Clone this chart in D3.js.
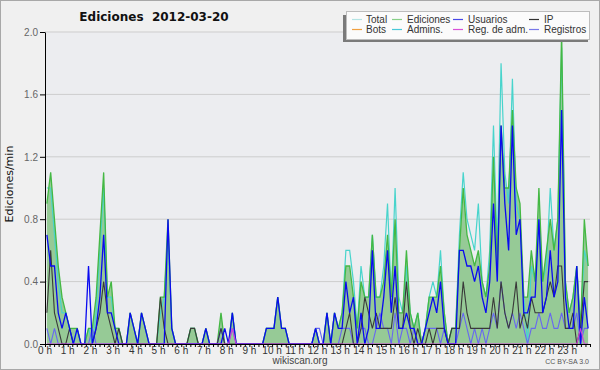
<!DOCTYPE html>
<html>
<head>
<meta charset="utf-8">
<script src="https://cdn.jsdelivr.net/npm/d3@7"></script>
<style>
body { margin: 0; background: #f0f0f0; }
</style>
</head>
<body>
<div id="grafico"></div>
<script>

// Datos: ediciones por minuto, en intervalos de 10 minutos (6 por hora)
var ediciones = [
  0.9, 1.1, 0.8, 0.5, 0.3, 0.2,
  0.1, 0.1, 0.1, 0.0, 0.0, 0.1,
  0.1, 0.3, 0.7, 1.1, 0.3, 0.4,
  0.1, 0.1, 0.0, 0.0, 0.2, 0.1,
  0.0, 0.2, 0.1, 0.0, 0.0, 0.0,
  0.3, 0.3, 0.8, 0.1, 0.0, 0.0,
  0.0, 0.0, 0.1, 0.1, 0.0, 0.0,
  0.1, 0.0, 0.0, 0.0, 0.2, 0.0,
  0.0, 0.2, 0.0, 0.0, 0.0, 0.0,
  0.0, 0.0, 0.0, 0.0, 0.1, 0.1,
  0.1, 0.3, 0.1, 0.1, 0.0, 0.0,
  0.0, 0.0, 0.0, 0.0, 0.0, 0.1,
  0.0, 0.0, 0.2, 0.0, 0.2, 0.1,
  0.2, 0.5, 0.5, 0.3, 0.1, 0.4,
  0.3, 0.3, 0.7, 0.3, 0.3, 0.4,
  0.7, 0.3, 0.8, 0.2, 0.2, 0.6,
  0.2, 0.1, 0.2, 0.0, 0.1, 0.3,
  0.3, 0.3, 0.5, 0.2, 0.0, 0.1,
  0.1, 0.6, 1.0, 0.7, 0.6, 0.5,
  0.6, 0.4, 0.3, 0.5, 1.2, 0.5,
  1.4, 1.0, 1.0, 1.5, 1.0, 0.9,
  0.3, 0.3, 0.6, 0.4, 1.0, 0.4,
  0.6, 0.8, 0.6, 0.8, 2.0, 0.4,
  0.2, 0.3, 0.5, 0.1, 0.8, 0.5
];
var total = [
  1.0, 1.0, 0.7, 0.4, 0.2, 0.2,
  0.1, 0.0, 0.1, 0.0, 0.0, 0.1,
  0.0, 0.2, 0.6, 1.0, 0.3, 0.3,
  0.1, 0.1, 0.0, 0.0, 0.2, 0.1,
  0.0, 0.2, 0.1, 0.0, 0.0, 0.0,
  0.2, 0.3, 0.7, 0.1, 0.0, 0.0,
  0.0, 0.0, 0.1, 0.1, 0.0, 0.0,
  0.1, 0.0, 0.0, 0.0, 0.1, 0.0,
  0.0, 0.2, 0.0, 0.0, 0.0, 0.0,
  0.0, 0.0, 0.0, 0.0, 0.1, 0.1,
  0.1, 0.3, 0.1, 0.1, 0.0, 0.0,
  0.0, 0.0, 0.0, 0.0, 0.0, 0.1,
  0.0, 0.0, 0.2, 0.0, 0.2, 0.1,
  0.2, 0.6, 0.6, 0.4, 0.1, 0.5,
  0.3, 0.3, 0.7, 0.3, 0.3, 0.5,
  0.9, 0.3, 1.0, 0.3, 0.2, 0.5,
  0.2, 0.1, 0.2, 0.0, 0.1, 0.3,
  0.4, 0.3, 0.6, 0.2, 0.0, 0.1,
  0.1, 0.7, 1.1, 0.8, 0.7, 0.6,
  0.9, 0.4, 0.3, 0.6, 1.4, 0.6,
  1.8, 1.1, 0.9, 1.7, 0.9, 0.8,
  0.3, 0.0, 0.5, 0.4, 0.8, 0.4,
  0.5, 1.0, 0.6, 0.8, 1.9, 0.4,
  0.2, 0.3, 0.5, 0.1, 0.6, 0.5
];
var usuarios = [
  0.7, 0.5, 0.5, 0.2, 0.1, 0.2,
  0.1, 0.0, 0.1, 0.0, 0.0, 0.5,
  0.0, 0.1, 0.3, 0.7, 0.2, 0.2,
  0.1, 0.0, 0.0, 0.0, 0.2, 0.1,
  0.0, 0.2, 0.1, 0.0, 0.0, 0.0,
  0.0, 0.0, 0.8, 0.1, 0.0, 0.0,
  0.0, 0.0, 0.0, 0.0, 0.0, 0.0,
  0.1, 0.0, 0.0, 0.0, 0.0, 0.1,
  0.0, 0.2, 0.0, 0.0, 0.0, 0.0,
  0.0, 0.0, 0.0, 0.0, 0.1, 0.1,
  0.1, 0.3, 0.1, 0.1, 0.0, 0.0,
  0.0, 0.0, 0.0, 0.0, 0.0, 0.1,
  0.0, 0.0, 0.2, 0.0, 0.2, 0.1,
  0.1, 0.4, 0.2, 0.3, 0.0, 0.2,
  0.0, 0.1, 0.6, 0.1, 0.1, 0.3,
  0.6, 0.2, 0.5, 0.1, 0.1, 0.2,
  0.1, 0.1, 0.0, 0.0, 0.1, 0.2,
  0.3, 0.2, 0.4, 0.1, 0.0, 0.0,
  0.0, 0.6, 0.6, 0.5, 0.5, 0.4,
  0.5, 0.3, 0.2, 0.4, 0.9, 0.4,
  1.4, 0.9, 0.6, 1.4, 0.7, 0.8,
  0.2, 0.2, 0.3, 0.3, 0.8, 0.2,
  0.3, 0.6, 0.3, 0.4, 1.5, 0.3,
  0.1, 0.1, 0.5, 0.0, 0.3, 0.1
];
var ip = [
  0.2, 0.6, 0.2, 0.1, 0.0, 0.0,
  0.1, 0.0, 0.0, 0.0, 0.0, 0.0,
  0.0, 0.1, 0.2, 0.4, 0.2, 0.1,
  0.0, 0.1, 0.0, 0.0, 0.0, 0.0,
  0.0, 0.0, 0.0, 0.0, 0.0, 0.0,
  0.3, 0.1, 0.0, 0.0, 0.0, 0.0,
  0.0, 0.0, 0.1, 0.1, 0.0, 0.0,
  0.0, 0.0, 0.0, 0.0, 0.1, 0.0,
  0.0, 0.0, 0.0, 0.0, 0.0, 0.0,
  0.0, 0.0, 0.0, 0.0, 0.0, 0.0,
  0.0, 0.0, 0.0, 0.0, 0.0, 0.0,
  0.0, 0.0, 0.0, 0.0, 0.0, 0.0,
  0.0, 0.0, 0.0, 0.0, 0.0, 0.0,
  0.0, 0.1, 0.2, 0.0, 0.0, 0.1,
  0.3, 0.2, 0.1, 0.2, 0.1, 0.1,
  0.1, 0.1, 0.3, 0.1, 0.1, 0.4,
  0.1, 0.0, 0.1, 0.0, 0.0, 0.1,
  0.0, 0.1, 0.1, 0.1, 0.0, 0.1,
  0.1, 0.1, 0.4, 0.2, 0.1, 0.1,
  0.1, 0.1, 0.1, 0.1, 0.3, 0.1,
  0.4, 0.2, 0.1, 0.2, 0.4, 0.1,
  0.2, 0.1, 0.3, 0.2, 0.2, 0.2,
  0.3, 0.4, 0.3, 0.5, 0.5, 0.1,
  0.1, 0.2, 0.0, 0.1, 0.4, 0.4
];
var registros = [
  0.1, 0.0, 0.1, 0.0, 0.0, 0.0,
  0.0, 0.0, 0.0, 0.0, 0.0, 0.0,
  0.1, 0.0, 0.0, 0.0, 0.0, 0.0,
  0.0, 0.0, 0.0, 0.0, 0.0, 0.0,
  0.0, 0.0, 0.0, 0.0, 0.0, 0.0,
  0.0, 0.0, 0.0, 0.0, 0.0, 0.0,
  0.0, 0.0, 0.0, 0.0, 0.0, 0.0,
  0.0, 0.0, 0.0, 0.0, 0.1, 0.0,
  0.0, 0.1, 0.0, 0.0, 0.0, 0.0,
  0.0, 0.0, 0.0, 0.0, 0.0, 0.0,
  0.0, 0.0, 0.0, 0.0, 0.0, 0.0,
  0.0, 0.0, 0.0, 0.0, 0.0, 0.1,
  0.1, 0.0, 0.0, 0.0, 0.0, 0.0,
  0.1, 0.1, 0.1, 0.0, 0.0, 0.1,
  0.1, 0.0, 0.0, 0.1, 0.2, 0.1,
  0.1, 0.0, 0.2, 0.0, 0.1, 0.1,
  0.0, 0.1, 0.0, 0.0, 0.1, 0.1,
  0.1, 0.1, 0.0, 0.1, 0.0, 0.0,
  0.0, 0.1, 0.2, 0.1, 0.0, 0.1,
  0.0, 0.1, 0.0, 0.1, 0.2, 0.1,
  0.4, 0.2, 0.1, 0.2, 0.1, 0.2,
  0.1, 0.0, 0.1, 0.1, 0.2, 0.1,
  0.1, 0.2, 0.1, 0.1, 0.2, 0.1,
  0.1, 0.1, 0.2, 0.0, 0.1, 0.1
];
var regAdm = [
  0, 0, 0, 0, 0, 0,  0, 0, 0, 0, 0, 0,  0, 0, 0, 0, 0, 0,  0, 0, 0, 0, 0, 0,
  0, 0, 0, 0, 0, 0,  0, 0, 0, 0, 0, 0,  0, 0, 0, 0, 0, 0,  0, 0, 0, 0, 0, 0,
  0, 0.1, 0, 0, 0, 0,  0, 0, 0, 0, 0, 0,  0, 0, 0, 0, 0, 0,  0, 0, 0, 0, 0, 0,
  0, 0, 0, 0, 0, 0,  0, 0, 0, 0, 0, 0,  0, 0, 0, 0, 0, 0,  0, 0, 0, 0, 0, 0,
  0, 0, 0, 0, 0, 0,  0, 0, 0, 0, 0, 0,  0, 0, 0, 0, 0, 0,  0, 0, 0, 0, 0, 0,
  0, 0, 0, 0, 0, 0,  0, 0, 0, 0, 0, 0,  0, 0, 0, 0, 0, 0,  0, 0, 0, 0.1, 0, 0
];

var etiquetasHoras = ["0 h","1 h","2 h","3 h","4 h","5 h","6 h","7 h","8 h","9 h","10 h","11 h",
  "12 h","13 h","14 h","15 h","16 h","17 h","18 h","19 h","20 h","21 h","22 h","23 h"];
var ticksY = [0, 0.4, 0.8, 1.2, 1.6, 2.0];

var leyendaNombres = ["Total", "Ediciones", "Usuarios", "IP", "Bots", "Admins.", "Reg. de adm.", "Registros"];
var leyendaColores = ["#b4e4e4", "#88d088", "#4848e8", "#333333", "#f0a040", "#48c8d8", "#d850d8", "#7878e8"];

// Area de dibujo
const WIDTH = 600;
const HEIGHT = 370;
var izq = 45, der = 590, arriba = 32, abajo = 344;
var fuente = "'Liberation Sans', Arial, sans-serif";

var svg = d3.select("#grafico")
    .append("svg")
    .attr("width", WIDTH)
    .attr("height", HEIGHT)
    .style("display", "block");

// fondo y borde exterior
svg.append("rect")
    .attr("x", 0.5).attr("y", 0.5)
    .attr("width", WIDTH - 1).attr("height", HEIGHT - 1)
    .style("fill", "#f0f0f0")
    .style("stroke", "#a8a8a8");

svg.append("rect")
    .attr("x", izq).attr("y", arriba)
    .attr("width", der - izq).attr("height", abajo - arriba)
    .style("fill", "#ecedf0");

var x = d3.scaleLinear().domain([0, 24]).range([izq, der]);
var y = d3.scaleLinear().domain([0, 2]).range([abajo, arriba]);

// lineas horizontales
svg.selectAll(".grid")
    .data(ticksY.slice(1))
    .enter()
    .append("line")
    .attr("class", "grid")
    .attr("x1", izq).attr("x2", der)
    .attr("y1", d => y(d)).attr("y2", d => y(d))
    .style("stroke", "#cdcdcd")
    .style("stroke-width", 1);

var posX = function(d, i) { return x((i + 0.5) / 6); };

svg.append("clipPath").attr("id", "recorte")
    .append("rect")
    .attr("x", izq).attr("y", arriba - 2)
    .attr("width", der - izq).attr("height", abajo - arriba + 2);

var zona = svg.append("g").attr("clip-path", "url(#recorte)");

var area = d3.area().x(posX).y0(y(0)).y1(d => y(d));
var linea = d3.line().x(posX).y(d => y(d));

zona.append("path")
    .attr("d", area(ediciones))
    .style("fill", "#96ca96");

var series = [
    { datos: total, color: "#48d4cc", ancho: 1.2 },
    { datos: ediciones, color: "#44b844", ancho: 1.3 },
    { datos: registros, color: "#6868f0", ancho: 1.1 },
    { datos: ip, color: "#3a3a3a", ancho: 1.1 },
    { datos: usuarios, color: "#0a0af0", ancho: 1.3 },
    { datos: regAdm, color: "#d040d8", ancho: 1.1 }
];

series.forEach(function(s) {
    zona.append("path")
        .attr("d", linea(s.datos))
        .style("fill", "none")
        .style("stroke", s.color)
        .style("stroke-width", s.ancho)
        .style("stroke-linejoin", "miter");
});

// eje Y
var ejeY = svg.append("g").attr("transform", "translate(" + izq + ",0)");
ejeY.call(d3.axisLeft(y).ticks(20).tickSize(3).tickFormat("").tickSizeOuter(0));
ejeY.call(d3.axisLeft(y).tickValues(ticksY).tickSize(5).tickPadding(2)
    .tickFormat(d3.format(".1f")).tickSizeOuter(0));
ejeY.selectAll("path, line").style("stroke", "#000");
ejeY.selectAll("text")
    .style("font-family", fuente)
    .style("font-size", "10px")
    .style("fill", "#666");

// eje X
var ejeX = svg.append("g").attr("transform", "translate(0," + abajo + ")");
ejeX.call(d3.axisBottom(x).ticks(144).tickSize(3).tickFormat("").tickSizeOuter(0));
ejeX.selectAll("path, line").style("stroke", "#000");

svg.selectAll(".hora")
    .data(etiquetasHoras)
    .enter()
    .append("text")
    .attr("class", "hora")
    .attr("x", (d, i) => x(i))
    .attr("y", 354)
    .attr("text-anchor", "middle")
    .style("font-family", fuente)
    .style("font-size", "10px")
    .style("fill", "#333")
    .text(d => d);

// titulo y textos
svg.append("text")
    .attr("x", 154).attr("y", 21)
    .attr("text-anchor", "middle")
    .style("white-space", "pre")
    .style("font-family", "'DejaVu Sans', sans-serif")
    .style("font-weight", "bold")
    .style("font-size", "12px")
    .style("fill", "#111")
    .text("Ediciones  2012-03-20");

svg.append("text")
    .attr("transform", "translate(13,184) rotate(-90)")
    .attr("text-anchor", "middle")
    .style("font-family", "'DejaVu Sans', sans-serif")
    .style("font-size", "11px")
    .style("fill", "#111")
    .text("Ediciones/min");

svg.append("text")
    .attr("x", 300).attr("y", 364)
    .attr("text-anchor", "middle")
    .style("font-family", fuente)
    .style("font-size", "10px")
    .style("fill", "#444")
    .text("wikiscan.org");

svg.append("text")
    .attr("x", 589).attr("y", 364)
    .attr("text-anchor", "end")
    .style("font-family", fuente)
    .style("font-size", "7px")
    .style("fill", "#555")
    .text("CC BY-SA 3.0");

// leyenda
var leyenda = svg.append("g");
leyenda.append("rect")
    .attr("x", 343).attr("y", 15).attr("width", 245).attr("height", 27)
    .style("fill", "#7a7a7a");
leyenda.append("rect")
    .attr("x", 346.5).attr("y", 11.5).attr("width", 243).attr("height", 28)
    .style("fill", "#fbfbfb")
    .style("stroke", "#bdbdbd");

var colX = [352, 392, 453, 529];
var textoX = [366, 407, 468, 544];
var filaY = [19, 29];

leyendaNombres.forEach(function(nombre, i) {
    var c = i % 4, f = Math.floor(i / 4);
    leyenda.append("line")
        .attr("x1", colX[c]).attr("x2", colX[c] + 10)
        .attr("y1", filaY[f] + 0.5).attr("y2", filaY[f] + 0.5)
        .style("stroke", leyendaColores[i])
        .style("stroke-width", 1.2);
    leyenda.append("text")
        .attr("x", textoX[c]).attr("y", filaY[f] + 4)
        .style("font-family", fuente)
        .style("font-size", "10px")
        .style("fill", "#333")
        .text(nombre);
});

</script>
</body>
</html>
